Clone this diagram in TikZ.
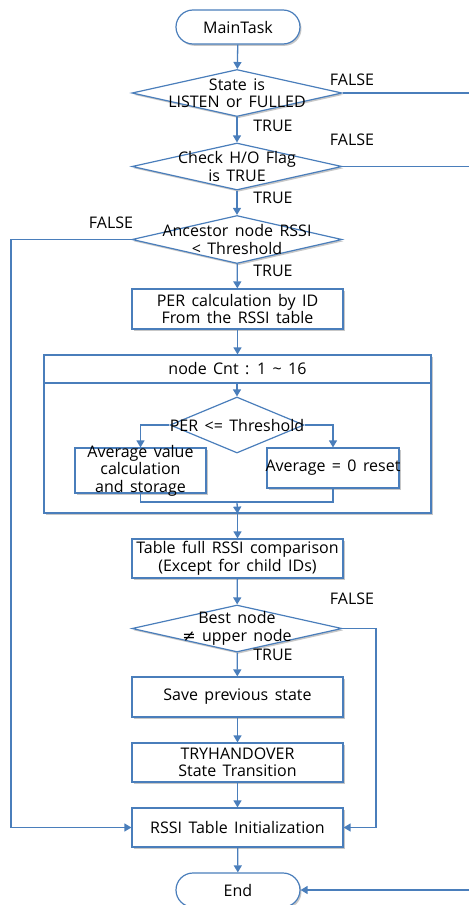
\documentclass[tikz,border=0pt]{standalone}
\usepackage{fontspec}
\setmainfont{Open Sans}
\newfontfamily\dejavu{DejaVu Sans}
\usetikzlibrary{arrows.meta,shapes.geometric,shadows}
\definecolor{lnc}{HTML}{4A7EBB}
\newcommand\chartfont{\fontsize{16}{17.5}\selectfont\spaceskip=0.4em plus 0.1em\relax}
\begin{document}
\begin{tikzpicture}[x=1pt,y=-1pt,
  font=\chartfont,
  shd/.style={drop shadow={shadow xshift=1.5pt,shadow yshift=-1.8pt,fill=black,opacity=0.22}},
  box/.style={draw=lnc,line width=1.2pt,fill=white,rectangle,inner sep=0pt,
    minimum width=211pt,minimum height=40pt,align=center,shd},
  term/.style={draw=lnc,line width=1.2pt,fill=white,rounded corners=17pt,
    minimum width=124pt,minimum height=34pt,inner sep=0pt,shd},
  dec/.style={draw=lnc,diamond,line width=1.2pt,fill=white,inner sep=0pt,
    minimum width=210pt,minimum height=47pt,shd},
  lbl/.style={align=center,inner sep=0pt},
  conn/.style={draw=lnc,line width=1.3pt},
  arr/.style={conn,-{Triangle[length=7pt,width=8pt]}},
  tag/.style={inner sep=0pt}
]
\useasboundingbox (0,0) rectangle (469,905);

% shapes
\node[term] (start) at (238,27) {MainTask};
\node[dec,label={[lbl]center:{State is\\LISTEN or FULLED}}] (d1) at (237,93) {};
\node[dec,label={[lbl]center:{Check H/O Flag\\is TRUE}}] (d2) at (237,166.5) {};
\node[dec,minimum height=48pt,label={[lbl]center:{Ancestor node RSSI\\< Threshold}}] (d3) at (237,239.5) {};
\node[box] (per) at (237.5,309) {PER calculation by ID\\From the RSSI table};

\node[draw=lnc,line width=1.2pt,fill=white,shd,inner sep=0pt,
  minimum width=387pt,minimum height=158pt] (loop) at (237.5,434) {};
\coordinate (hl) at (44,383);
\coordinate (hr) at (431,383);
\draw[draw=lnc,line width=1.2pt] (hl) -- (hr);
\node[lbl] (hdr) at (237.5,369) {node Cnt : 1 \textasciitilde{} 16};
\coordinate (hm) at (237,383);

\node[draw=lnc,diamond,line width=1.2pt,fill=white,inner sep=0pt,
  minimum width=134pt,minimum height=56pt,
  label={[lbl]center:{PER <= Threshold}}] (pd) at (237,425) {};
\node[box,minimum width=131pt,minimum height=45pt,
  label={[lbl]center:{Average value\\calculation\\and storage}}] (avg) at (140.5,470.5) {};
\node[box,minimum width=132pt,minimum height=40pt,
  label={[lbl]center:{Average = 0 reset}}] (zero) at (333,468) {};
\coordinate (mj) at (237,502);

\node[box,minimum height=39pt] (tbl) at (237.5,558.5) {Table full RSSI comparison\\(Except for child IDs)};
\node[dec,label={[lbl]center:{Best node\\{\dejavu ≠} upper node}}] (d4) at (237,628.5) {};
\node[box] (save) at (237.5,697) {Save previous state};
\node[box,minimum height=39pt] (try) at (237.5,762.5) {TRYHANDOVER\\State Transition};
\node[box,minimum height=39pt] (rssi) at (237.5,827.5) {RSSI Table Initialization};
\node[term] (fin) at (238,890) {End};

% connectors
\draw[arr] (start) -- (d1);
\draw[arr] (d1) -- (d2);
\draw[arr] (d2) -- (d3);
\draw[arr] (d3) -- (per);
\draw[arr] (per) -- (loop);
\draw[arr] (hm) -- (pd);
\draw[arr] (pd.west) -| (avg.north);
\draw[arr] (pd.east) -| (zero.north);
\draw[conn] (avg.south) |- (mj) -| (zero.south);
\draw[arr] (mj) -- (loop.south);
\draw[arr] (loop) -- (tbl);
\draw[arr] (tbl) -- (d4);
\draw[arr] (d4) -- (save);
\draw[arr] (save) -- (try);
\draw[arr] (try) -- (rssi);
\draw[arr] (rssi) -- (fin);

\coordinate (r1) at (469,93);
\coordinate (r2) at (469,166.5);
\coordinate (l3) at (11,239.5);
\coordinate (r4) at (376,628.5);
\coordinate (r5) at (469,890);
\draw[conn] (d1.east) -- (r1);
\draw[conn] (d2.east) -- (r2);
\draw[arr] (d3.west) -- (l3) |- (rssi.west);
\draw[arr] (d4.east) -- (r4) |- (rssi.east);
\draw[arr] (r5) -- (fin.east);

% labels
\node[tag] (f1) at (352,80) {FALSE};
\node[tag] (t1) at (273,126) {TRUE};
\node[tag] (f2) at (352,140) {FALSE};
\node[tag] (t2) at (273,198) {TRUE};
\node[tag] (f3) at (111,223) {FALSE};
\node[tag] (t3) at (273,271) {TRUE};
\node[tag] (f4) at (352,599) {FALSE};
\node[tag] (t4) at (273,655) {TRUE};
\end{tikzpicture}
\end{document}
